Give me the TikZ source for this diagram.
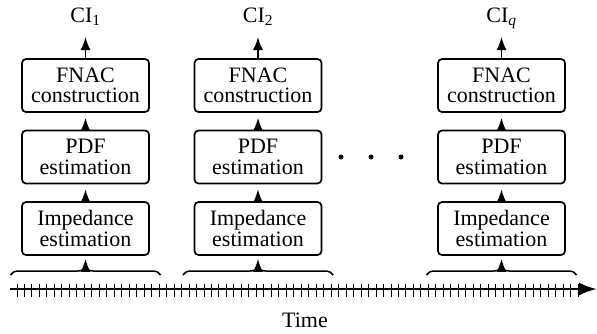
\documentclass[tikz,border=0pt]{standalone}
\usepackage{fontspec}
\setmainfont{Liberation Serif}
\usetikzlibrary{arrows.meta,decorations.pathreplacing}

\begin{document}
\begin{tikzpicture}[x=1pt,y=-1pt,
  txt/.style={font=\rmfamily\fontsize{22}{20.5}\selectfont},
  stage/.style={txt,draw,line width=1.7pt,rounded corners=4pt,align=center,
    minimum width=127pt,minimum height=53pt,inner sep=0pt},
  feed/.style={line width=1.6pt,-{Latex[length=13pt,width=10pt]},shorten >=5pt},
  outarrow/.style={line width=1.6pt,-{Latex[length=13pt,width=10pt]}},
  window/.style={line width=1.5pt,decorate,decoration={brace,amplitude=8pt}},
  axis/.style={line width=2.8pt,-{Latex[length=18pt,width=13pt]}},
  tick/.style={line width=1pt},
  dot/.style={circle,fill,inner sep=0pt,minimum size=5pt}]
\useasboundingbox (0,0) rectangle (597,333);

% one processing chain per time window
\foreach \c/\n/\lab in {85.5/1/{CI\textsubscript{1}},258/2/{CI\textsubscript{2}},501.5/3/{CI\textsubscript{\textit{q}}}}{
  \node[txt,anchor=base,inner sep=0pt] (ci\n) at (\c,22) {\lab};
  \node[stage] (fnac\n) at (\c,85.5) {FNAC\\construction};
  \node[stage] (pdf\n) at (\c,157) {PDF\\estimation};
  \node[stage] (imp\n) at (\c,228.5) {Impedance\\estimation};
  \coordinate (out\n) at (\c,37);
  \coordinate (bl\n) at (\c-75,275);
  \coordinate (br\n) at (\c+75,275);
  \coordinate (bt\n) at (\c,271);
  \draw[outarrow] (fnac\n.north) -- (out\n);
  \draw[feed] (pdf\n.north) -- (fnac\n.south);
  \draw[feed] (imp\n.north) -- (pdf\n.south);
  \draw[window] (bl\n) -- (br\n);
  \draw[feed,shorten >=3pt] (bt\n) -- (imp\n.south);
}

% ellipsis between the second and last chains
\node[dot] (d1) at (341,157) {};
\node[dot] (d2) at (371,157) {};
\node[dot] (d3) at (401,157) {};

% time axis with regular ticks
\coordinate (t0) at (10,289);
\coordinate (t1) at (597,289);
\foreach \k in {0,...,75}{
  \draw[tick] (17+7.48*\k,284) -- ++(0,13);
}
\draw[axis] (t0) -- (t1);
\node[txt,anchor=base,inner sep=0pt] (time) at (305,327) {Time};
\end{tikzpicture}
\end{document}
